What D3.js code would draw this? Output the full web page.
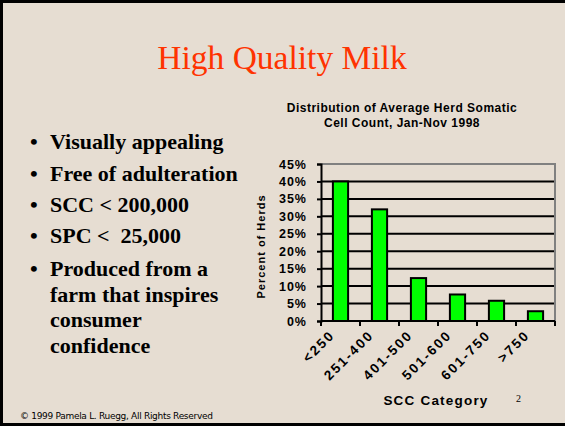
<!DOCTYPE html>
<html>
<head>
<meta charset="utf-8">
<script src="https://cdn.jsdelivr.net/npm/d3@7"></script>
<style>
  body { margin: 0; background: #e6ddd2; }
  svg { display: block; }
</style>
</head>
<body>
<script>
const categories = ['<250', '251-400', '401-500', '501-600', '601-750', '>750']
const percentHerds = [40, 32, 12.3, 7.6, 5.8, 2.8]
const yTicks = [0, 5, 10, 15, 20, 25, 30, 35, 40, 45]
const bullets = [
    ['Visually appealing'],
    ['Free of adulteration'],
    ['SCC < 200,000'],
    ['SPC <  25,000'],
    ['Produced from a', 'farm that inspires', 'consumer', 'confidence']
]

const m = { width: 565, height: 426 }

const svg = d3.select('body').append('svg')
    .attr('width', m.width)
    .attr('height', m.height)

// slide background + border
svg.append('rect')
    .attr('width', m.width).attr('height', m.height)
    .attr('fill', '#e6ddd2')
svg.append('path')
    .attr('d', `M1.5,${m.height} V1.5 H${m.width}`)
    .attr('fill', 'none').attr('stroke', '#000').attr('stroke-width', 3)
svg.append('line')
    .attr('x1', 0).attr('x2', m.width)
    .attr('y1', 424.5).attr('y2', 424.5)
    .attr('stroke', '#000').attr('stroke-width', 3)

svg.append('text')
    .attr('x', 282).attr('y', 69)
    .attr('text-anchor', 'middle')
    .attr('font-family', 'Liberation Serif, Times New Roman, serif')
    .attr('font-size', 33.5)
    .attr('fill', '#ff3300')
    .text('High Quality Milk')

// bullet list
const lineBase = [149, 181, 212, 243, 276]
const bg = svg.append('g')
    .attr('font-family', 'Liberation Serif, Times New Roman, serif')
    .attr('font-weight', 'bold')
    .attr('font-size', 22)
    .attr('fill', '#000')
bullets.forEach(function(lines, i) {
    bg.append('text')
        .attr('x', 30).attr('y', lineBase[i])
        .text('•')
    lines.forEach(function(l, j) {
        bg.append('text')
            .attr('x', 50).attr('y', lineBase[i] + j * 25.7)
            .attr('xml:space', 'preserve')
            .style('white-space', 'pre')
            .text(l)
    })
})

// chart
const plot = { left: 321, right: 555, top: 164, bottom: 321 }

const x = d3.scaleBand()
    .domain(categories)
    .range([plot.left, plot.right])
    .paddingInner(0.61)
    .paddingOuter(0.305)

const y = d3.scaleLinear()
    .domain([0, 45])
    .range([plot.bottom, plot.top])

const g = svg.append('g')
    .attr('font-family', 'Liberation Sans, Arial, sans-serif')
    .attr('font-weight', 'bold')

g.append('text')
    .attr('x', 402).attr('y', 112)
    .attr('text-anchor', 'middle')
    .attr('font-size', 12)
    .attr('letter-spacing', 0.5)
    .text('Distribution of Average Herd Somatic')
g.append('text')
    .attr('x', 402).attr('y', 127)
    .attr('text-anchor', 'middle')
    .attr('font-size', 12)
    .attr('letter-spacing', 0.5)
    .text('Cell Count, Jan-Nov 1998')

// gridlines
g.selectAll('.grid')
    .data(yTicks.filter(d => d > 0 && d < 45))
    .enter()
    .append('line')
        .attr('x1', plot.left).attr('x2', plot.right)
        .attr('y1', d => y(d)).attr('y2', d => y(d))
        .attr('stroke', '#000').attr('stroke-width', 2)

// top and right frame
g.append('path')
    .attr('d', `M${plot.left},${y(45)} H${plot.right} V${plot.bottom}`)
    .attr('fill', 'none').attr('stroke', '#808080').attr('stroke-width', 2)

// bars
g.selectAll('.bar')
    .data(percentHerds)
    .enter()
    .append('rect')
        .attr('x', (d, i) => x(categories[i]))
        .attr('y', d => y(d))
        .attr('width', x.bandwidth())
        .attr('height', d => y(0) - y(d))
        .attr('fill', '#00ff00')
        .attr('stroke', '#000')
        .attr('stroke-width', 2)

// y axis
const yAxis = g.append('g')
    .attr('transform', `translate(${plot.left},0)`)
    .call(d3.axisLeft(y).tickValues(yTicks).tickSize(4).tickFormat(d => d + '%'))
yAxis.select('.domain').attr('stroke', '#000').attr('stroke-width', 2)
yAxis.selectAll('.tick line').attr('stroke', '#000').attr('stroke-width', 2)
yAxis.selectAll('.tick text')
    .attr('font-family', 'Liberation Sans, Arial, sans-serif')
    .attr('font-weight', 'bold')
    .attr('font-size', 12.5)
    .attr('letter-spacing', 1)
    .attr('fill', '#000')
    .attr('x', -14)

// x axis
const xTickScale = d3.scaleLinear().domain([0, 6]).range([plot.left, plot.right])
g.append('line')
    .attr('x1', plot.left).attr('x2', plot.right)
    .attr('y1', plot.bottom).attr('y2', plot.bottom)
    .attr('stroke', '#000').attr('stroke-width', 2)
g.selectAll('.xtick')
    .data(d3.range(7))
    .enter()
    .append('line')
        .attr('x1', d => xTickScale(d)).attr('x2', d => xTickScale(d))
        .attr('y1', plot.bottom).attr('y2', plot.bottom + 5)
        .attr('stroke', '#000').attr('stroke-width', 2)

g.selectAll('.xlabel')
    .data(categories)
    .enter()
    .append('text')
        .attr('text-anchor', 'end')
        .attr('font-size', 13.5)
        .attr('letter-spacing', 2)
        .attr('transform', d => `translate(${x(d) + x.bandwidth() / 2 - 5},${plot.bottom + 15}) rotate(-45)`)
        .text(d => d)

g.append('text')
    .attr('x', 436).attr('y', 405)
    .attr('text-anchor', 'middle')
    .attr('font-size', 13.5)
    .attr('letter-spacing', 1.2)
    .text('SCC Category')

g.append('text')
    .attr('transform', `translate(265,${(plot.top + plot.bottom) / 2 + 4}) rotate(-90)`)
    .attr('text-anchor', 'middle')
    .attr('font-size', 11)
    .attr('letter-spacing', 1)
    .text('Percent of Herds')

svg.append('text')
    .attr('x', 516).attr('y', 402)
    .attr('font-family', 'Liberation Serif, Times New Roman, serif')
    .attr('font-size', 10)
    .text('2')

svg.append('text')
    .attr('x', 20).attr('y', 419)
    .attr('font-family', 'DejaVu Sans, sans-serif')
    .attr('font-size', 9)
    .attr('letter-spacing', -0.3)
    .text('© 1999 Pamela L. Ruegg, All Rights Reserved')
</script>
</body>
</html>
